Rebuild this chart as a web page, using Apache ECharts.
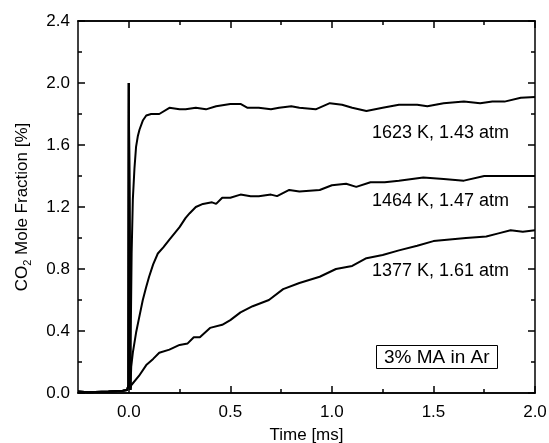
<!DOCTYPE html>
<html>
<head>
<meta charset="utf-8">
<script src="https://cdn.jsdelivr.net/npm/echarts@6/dist/echarts.min.js"></script>
<style>
  html, body { margin: 0; padding: 0; background: #fff; }
  #main { width: 549px; height: 443px; }
</style>
</head>
<body>
<div id="main"></div>
<script>
// 基线 + 纹影尖峰 (三条曲线共用)
var tSpike = [-0.25, -0.2, -0.1, -0.03, -0.008, -0.002, 0.0, 0.004, 0.008];
var ySpike = [0.01, 0.005, 0.01, 0.015, 0.02, 0.05, 2.0, 1.0, 0.02];

// 1623 K, 1.43 atm
var t1623 = [0.009, 0.014, 0.02, 0.028, 0.036, 0.045, 0.053, 0.07, 0.086, 0.11, 0.15, 0.2, 0.25, 0.28, 0.33, 0.38, 0.43, 0.5, 0.55, 0.585, 0.64, 0.7, 0.74, 0.8, 0.84, 0.92, 0.99, 1.05, 1.1, 1.17, 1.25, 1.33, 1.42, 1.47, 1.55, 1.65, 1.73, 1.79, 1.85, 1.93, 2.0];
var y1623 = [0.3, 0.9, 1.25, 1.45, 1.59, 1.66, 1.70, 1.76, 1.79, 1.80, 1.80, 1.84, 1.83, 1.83, 1.84, 1.83, 1.85, 1.865, 1.865, 1.84, 1.84, 1.83, 1.84, 1.85, 1.84, 1.83, 1.87, 1.86, 1.84, 1.82, 1.84, 1.86, 1.86, 1.85, 1.87, 1.88, 1.87, 1.88, 1.88, 1.905, 1.91];

// 1464 K, 1.47 atm
var t1464 = [0.009, 0.012, 0.02, 0.036, 0.05, 0.069, 0.085, 0.1, 0.12, 0.143, 0.17, 0.2, 0.25, 0.28, 0.3, 0.33, 0.365, 0.41, 0.43, 0.46, 0.5, 0.55, 0.6, 0.64, 0.7, 0.73, 0.79, 0.84, 0.94, 1.0, 1.07, 1.12, 1.19, 1.26, 1.33, 1.45, 1.55, 1.65, 1.75, 1.85, 2.0];
var y1464 = [0.02, 0.17, 0.26, 0.39, 0.48, 0.60, 0.68, 0.75, 0.83, 0.90, 0.94, 0.99, 1.07, 1.13, 1.16, 1.20, 1.22, 1.23, 1.22, 1.26, 1.26, 1.28, 1.27, 1.27, 1.28, 1.27, 1.31, 1.30, 1.31, 1.34, 1.35, 1.33, 1.36, 1.36, 1.37, 1.39, 1.38, 1.37, 1.40, 1.40, 1.40];

// 1377 K, 1.61 atm
var t1377 = [0.009, 0.012, 0.05, 0.086, 0.12, 0.15, 0.2, 0.25, 0.29, 0.32, 0.35, 0.4, 0.46, 0.5, 0.55, 0.61, 0.69, 0.76, 0.84, 0.94, 1.02, 1.1, 1.17, 1.25, 1.33, 1.42, 1.5, 1.58, 1.66, 1.76, 1.82, 1.88, 1.94, 2.0];
var y1377 = [0.02, 0.05, 0.11, 0.18, 0.22, 0.26, 0.28, 0.31, 0.32, 0.36, 0.36, 0.42, 0.44, 0.47, 0.52, 0.56, 0.60, 0.67, 0.71, 0.75, 0.80, 0.82, 0.87, 0.89, 0.92, 0.95, 0.98, 0.99, 1.00, 1.01, 1.03, 1.05, 1.04, 1.05];

var xMajor = [0, 0.5, 1.0, 1.5, 2.0];
var xMinor = [0.25, 0.75, 1.25, 1.75];
var curveLabels = ['1623 K, 1.43 atm', '1464 K, 1.47 atm', '1377 K, 1.61 atm'];
var insetText = '3% MA in Ar';

var FONT = '"Liberation Sans", Arial, Helvetica, sans-serif';

function pairs(t, y) {
  var out = [];
  for (var i = 0; i < tSpike.length; i++) out.push([tSpike[i], ySpike[i]]);
  for (var j = 0; j < t.length; j++) out.push([t[j], y[j]]);
  return out;
}

function xAxisDef(pos, values, len, withLabel) {
  return {
    type: 'value', position: pos, min: -0.25, max: 2.0,
    axisLine: { show: true, onZero: false, lineStyle: { color: '#000', width: 1.5 } },
    axisTick: { show: true, inside: true, length: len, customValues: values, lineStyle: { color: '#000', width: 1.5 } },
    axisLabel: withLabel ? {
      show: true, customValues: xMajor, margin: 11, color: '#000', fontSize: 17, fontFamily: FONT,
      formatter: function (v) { return v.toFixed(1); }
    } : { show: false },
    splitLine: { show: false }
  };
}

function yAxisDef(pos, withLabel) {
  return {
    type: 'value', position: pos, min: 0, max: 2.4, interval: 0.4,
    axisLine: { show: true, onZero: false, lineStyle: { color: '#000', width: 1.5 } },
    axisTick: { show: true, inside: true, length: 7, lineStyle: { color: '#000', width: 1.5 } },
    minorTick: { show: true, splitNumber: 2, length: 4, lineStyle: { color: '#000', width: 1.5 } },
    axisLabel: withLabel ? {
      show: true, margin: 8, color: '#000', fontSize: 17, fontFamily: FONT,
      formatter: function (v) { return v.toFixed(1); }
    } : { show: false },
    splitLine: { show: false }
  };
}

var chart = echarts.init(document.getElementById('main'), null, { renderer: 'canvas' });

var xb = xAxisDef('bottom', xMajor, 7, true);
xb.name = 'Time [ms]';
xb.nameLocation = 'middle';
xb.nameGap = 34;
xb.nameTextStyle = { color: '#000', fontSize: 17, fontFamily: FONT };

var yl = yAxisDef('left', true);
yl.name = '{a|CO}{s|2}{a| Mole Fraction [%]}';
yl.nameLocation = 'middle';
yl.nameGap = 45;
yl.nameTextStyle = {
  color: '#000', fontFamily: FONT,
  rich: {
    a: { fontSize: 17, fontFamily: FONT, color: '#000', lineHeight: 22, verticalAlign: 'middle' },
    s: { fontSize: 11, fontFamily: FONT, color: '#000', lineHeight: 22, verticalAlign: 'bottom' }
  }
};

var option = {
  animation: false,
  backgroundColor: '#fff',
  grid: { left: 78, right: 14, top: 21, bottom: 50, containLabel: false, outerBoundsMode: 'none' },
  title: {
    text: insetText, left: 376, top: 345,
    borderWidth: 1, borderColor: '#000', padding: [3, 8, 2, 8],
    textStyle: { color: '#000', fontSize: 19, fontWeight: 'normal', fontFamily: FONT }
  },
  xAxis: [
    xb,
    xAxisDef('bottom', xMinor, 4, false),
    xAxisDef('top', xMajor, 7, false),
    xAxisDef('top', xMinor, 4, false)
  ],
  yAxis: [yl, yAxisDef('right', false)],
  graphic: [
    { type: 'text', left: 372, top: 124, style: { text: curveLabels[0], fill: '#000', font: '18px ' + FONT } },
    { type: 'text', left: 372, top: 192, style: { text: curveLabels[1], fill: '#000', font: '18px ' + FONT } },
    { type: 'text', left: 372, top: 262, style: { text: curveLabels[2], fill: '#000', font: '18px ' + FONT } }
  ],
  series: [
    { name: curveLabels[0], type: 'line', data: pairs(t1623, y1623) },
    { name: curveLabels[1], type: 'line', data: pairs(t1464, y1464) },
    { name: curveLabels[2], type: 'line', data: pairs(t1377, y1377) }
  ].map(function (s) {
    s.showSymbol = false;
    s.symbol = 'none';
    s.smooth = false;
    s.xAxisIndex = 0;
    s.yAxisIndex = 0;
    s.lineStyle = { color: '#000', width: 2 };
    s.itemStyle = { color: '#000' };
    return s;
  })
};

chart.setOption(option);
</script>
</body>
</html>
